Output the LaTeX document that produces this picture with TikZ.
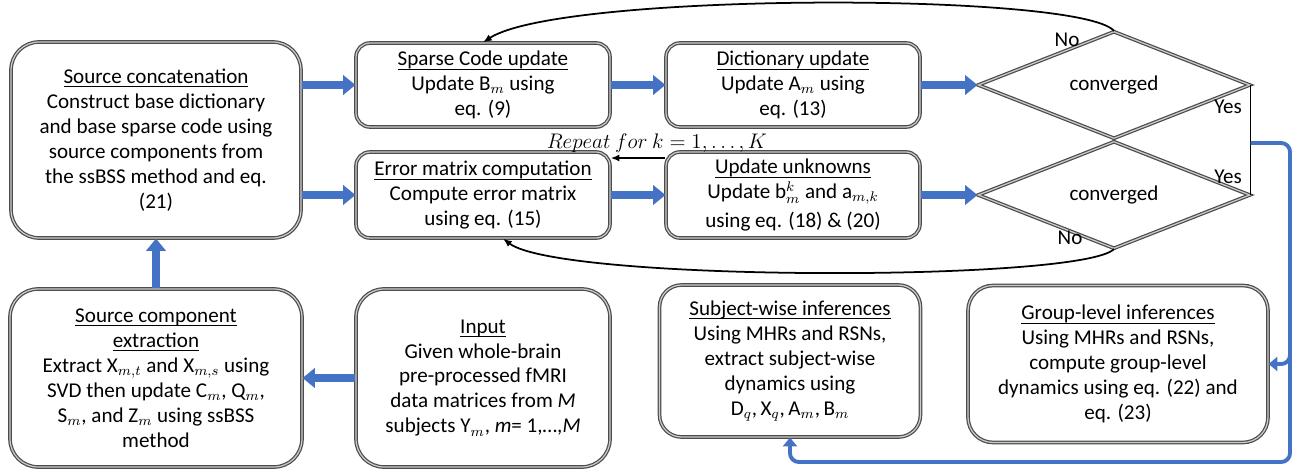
\documentclass[tikz,border=0pt]{standalone}
\usepackage{fontspec}
\setmainfont{Carlito}
\usetikzlibrary{shapes.geometric,arrows.meta,calc}
\definecolor{flowblue}{RGB}{68,114,196}
\newcommand{\boxhead}[1]{\setbox0\hbox{#1}\rlap{\rule[-2.2pt]{\wd0}{0.5pt}}\box0}

\begin{document}
\begin{tikzpicture}[x=0.02cm, y=-0.02cm,
  font=\fontsize{12pt}{14.2pt}\selectfont,
  box/.style={draw=black!70, double=black!20, double distance=0.7pt, line width=0.7pt,
    rounded corners=#1, align=center, fill=white, inner sep=2pt},
  box/.default=0.5cm,
  dia/.style={diamond, draw=black!70, double=black!20, double distance=0.7pt, line width=0.7pt,
    minimum width=5.44cm, minimum height=1.6cm, inner sep=0pt, fill=white},
  flow/.style={draw=flowblue, line width=4.5pt, -{Triangle[length=7pt,width=11pt]}},
  outline/.style={draw=flowblue, line width=2.2pt, rounded corners=5pt, -{Triangle[length=5pt,width=8pt]}},
  backarr/.style={draw=black, line width=1pt, -{Latex[length=5pt,width=4pt]}}]
  \useasboundingbox (0,0) rectangle (1296,470);

  % top row
  \node[box=0.56cm, minimum width=5.8cm, minimum height=3.92cm] (concat) at (156,140)
    {\boxhead{Source concatenation}\\Construct base dictionary\\and base sparse code using\\source components from\\the ssBSS method and eq.\\(21)};
  \node[box=0.28cm, minimum width=5.08cm, minimum height=1.68cm] (sparse) at (483,85)
    {\boxhead{Sparse Code update}\\Update B$_m$ using\\eq. (9)};
  \node[box=0.28cm, minimum width=5.08cm, minimum height=1.72cm] (err) at (483,195)
    {\boxhead{Error matrix computation}\\Compute error matrix\\using eq. (15)};
  \node[box=0.28cm, minimum width=5.08cm, minimum height=1.68cm] (dict) at (793,85)
    {\boxhead{Dictionary update}\\Update A$_m$ using\\eq. (13)};
  \node[box=0.28cm, minimum width=5.08cm, minimum height=1.72cm] (unk) at (793,195)
    {\boxhead{Update unknowns}\\Update b$^k_m$ and a$_{m,k}$\\[2pt]using eq. (18) \& (20)};
  \node[dia] (conv1) at (1114,85) {converged};
  \node[dia] (conv2) at (1114,195) {converged};

  % bottom row
  \node[box=0.56cm, minimum width=5.84cm, minimum height=3.56cm] (extr) at (156,378)
    {\boxhead{Source component}\\\boxhead{extraction}\\Extract X$_{m,t}$ and X$_{m,s}$ using\\SVD then update C$_m$, Q$_m$,\\S$_m$, and Z$_m$ using ssBSS\\method};
  \node[box=0.56cm, minimum width=5.08cm, minimum height=3.56cm] (input) at (483,378)
    {\boxhead{Input}\\Given whole-brain\\pre-processed fMRI\\data matrices from \textit{M}\\subjects Y$_m$, \textit{m}= 1,\ldots,\textit{M}};
  \node[box=0.44cm, minimum width=5.22cm, minimum height=3.04cm] (subj) at (790,361)
    {\boxhead{Subject-wise inferences}\\Using MHRs and RSNs,\\extract subject-wise\\dynamics using\\D$_q$,\,X$_q$,\,A$_m$,\,B$_m$};
  \node[box=0.5cm, minimum width=6.0cm, minimum height=3.14cm] (group) at (1118,364)
    {\boxhead{Group-level inferences}\\Using MHRs and RSNs,\\compute group-level\\dynamics using eq. (22) and\\eq. (23)};

  % main flow
  \draw[flow] (concat.east |- sparse.west) -- (sparse.west);
  \draw[flow] (concat.east |- err.west) -- (err.west);
  \draw[flow] (sparse) -- (dict);
  \draw[flow] (err) -- (unk);
  \draw[flow] (dict) -- (conv1);
  \draw[flow] (unk) -- (conv2);
  \draw[flow] (extr) -- (concat);
  \draw[flow] (input) -- (extr);

  % loops back
  \draw[backarr] (conv1.north) .. controls (1080,-8) and (560,-8) .. (sparse.north);
  \draw[backarr] (conv2.south) .. controls (1080,282) and (560,282) .. ([xshift=0.4cm]err.south);
  \draw[backarr] ([yshift=0.74cm]unk.west) -- ([yshift=0.74cm]err.east);
  \node (rep) at (657,143) {$Repeat\ for\ k=1,\ldots,K$};
  \node (no1) at (1067,40) {No};
  \node (no2) at (1070,238) {No};
  \node (yes1) at (1228,107) {Yes};
  \node (yes2) at (1228,177) {Yes};

  % outputs
  \draw[line width=0.8pt] (conv1.east) -- (conv2.east);
  \coordinate (join) at ($(conv1.east)!0.5!(conv2.east)$);
  \coordinate (rtop) at (1290,143);
  \coordinate (rmid) at (1290,335);
  \coordinate (rbot) at (1290,462);
  \draw[outline] (join |- rtop) -- (rtop) -- (rbot) -| (subj.south);
  \draw[outline] (rmid) |- (group.east);
\end{tikzpicture}
\end{document}
